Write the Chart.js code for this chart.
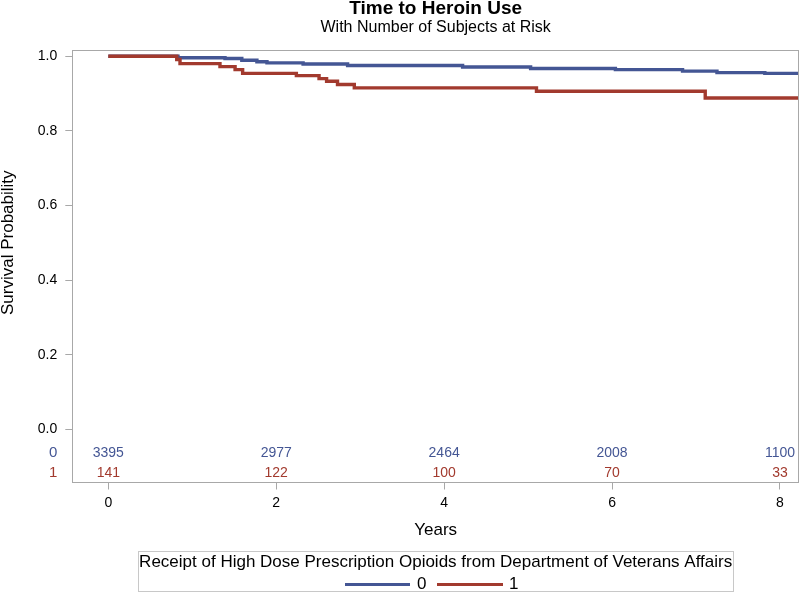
<!DOCTYPE html>
<html>
<head>
<meta charset="utf-8">
<script src="https://cdn.jsdelivr.net/npm/chart.js@4/dist/chart.umd.min.js"></script>
<style>
  html, body { margin: 0; padding: 0; background: #ffffff; }
  #wrap { width: 800px; height: 595px; position: relative; }
</style>
</head>
<body>
<div id="wrap"><canvas id="c" width="800" height="595"></canvas></div>
<script>
// ---- data ----
const groupLabels = ['0', '1'];
const timesGroup0 = [0, 0.83, 1.39, 1.59, 1.77, 1.89, 2.32, 2.85, 4.22, 5.03, 6.04, 6.84, 7.25, 7.82, 8.227];
const survGroup0  = [1.0, 0.996, 0.994, 0.989, 0.985, 0.982, 0.979, 0.975, 0.971, 0.967, 0.964, 0.960, 0.956, 0.954, 0.954];
const timesGroup1 = [0, 0.815, 0.854, 1.33, 1.51, 1.60, 2.24, 2.51, 2.60, 2.73, 2.93, 5.10, 7.11, 8.227];
const survGroup1  = [1.0, 0.991, 0.980, 0.972, 0.964, 0.954, 0.948, 0.940, 0.933, 0.924, 0.915, 0.906, 0.888, 0.888];
const atRiskTimes  = [0, 2, 4, 6, 8];
const atRiskGroup0 = [3395, 2977, 2464, 2008, 1100];
const atRiskGroup1 = [141, 122, 100, 70, 33];
const xTickValues = [0, 2, 4, 6, 8];
const yTickValues = [0.0, 0.2, 0.4, 0.6, 0.8, 1.0];

const titleText = 'Time to Heroin Use';
const subtitleText = 'With Number of Subjects at Risk';
const xTitleText = 'Years';
const yTitleText = 'Survival Probability';
const legendTitle = 'Receipt of High Dose Prescription Opioids from Department of Veterans Affairs';

const BLUE = '#445694';
const RED = '#A23A2E';
const FRAME = '#A8A8A8';
const FONT = '"Liberation Sans", Arial, sans-serif';

function toPoints(xs, ys) { return xs.map((x, i) => ({ x: x, y: ys[i] })); }

const decorPlugin = {
  id: 'decor',
  afterDatasetsDraw(chart) {
    const { ctx, chartArea: a, scales } = chart;
    const xs = scales.x, ys = scales.y;
    ctx.save();
    // frame
    ctx.strokeStyle = FRAME;
    ctx.lineWidth = 1;
    ctx.strokeRect(Math.round(a.left) + 0.5, Math.round(a.top) + 0.5,
                   Math.round(a.right - a.left) - 1, Math.round(a.bottom - a.top));
    // at-risk rows
    const rows = [
      { vals: atRiskGroup0, color: BLUE, yv: -0.0635, lab: groupLabels[0] },
      { vals: atRiskGroup1, color: RED,  yv: -0.117,  lab: groupLabels[1] }
    ];
    ctx.textBaseline = 'middle';
    rows.forEach(r => {
      const py = ys.getPixelForValue(r.yv);
      ctx.fillStyle = r.color;
      ctx.font = '14px ' + FONT;
      ctx.textAlign = 'center';
      r.vals.forEach((v, i) => {
        ctx.fillText(String(v), xs.getPixelForValue(atRiskTimes[i]), py);
      });
      ctx.font = '15px ' + FONT;
      ctx.textAlign = 'right';
      ctx.fillText(r.lab, a.left - 15, py);
    });
    // y axis title, centred on the 0..1 range
    ctx.save();
    ctx.translate(8.5, (ys.getPixelForValue(0) + ys.getPixelForValue(1)) / 2);
    ctx.rotate(-Math.PI / 2);
    ctx.fillStyle = '#000';
    ctx.font = '17px ' + FONT;
    ctx.textAlign = 'center';
    ctx.fillText(yTitleText, 0, 0);
    ctx.restore();
    ctx.restore();
  },
  afterDraw(chart) {
    const { ctx, chartArea: a } = chart;
    const cx = (a.left + a.right) / 2;
    ctx.save();
    ctx.fillStyle = '#000';
    ctx.textAlign = 'center';
    ctx.textBaseline = 'middle';
    ctx.font = 'bold 19px ' + FONT;
    ctx.fillText(titleText, cx, 9);
    ctx.font = '16px ' + FONT;
    ctx.fillText(subtitleText, cx, 28);
    // legend box
    ctx.strokeStyle = '#C8C8C8';
    ctx.lineWidth = 1;
    ctx.strokeRect(138.5, 551.5, 595, 40);
    ctx.fillStyle = '#000';
    ctx.font = '17px ' + FONT;
    ctx.fillText(legendTitle, cx, 562);
    const ds = chart.data.datasets;
    const items = [
      { x0: 345, x1: 410, tx: 417, d: ds[0] },
      { x0: 437, x1: 503, tx: 509, d: ds[1] }
    ];
    items.forEach(it => {
      ctx.strokeStyle = it.d.borderColor;
      ctx.lineWidth = 3;
      ctx.beginPath();
      ctx.moveTo(it.x0, 584.5);
      ctx.lineTo(it.x1, 584.5);
      ctx.stroke();
      ctx.fillStyle = '#000';
      ctx.textAlign = 'left';
      ctx.fillText(it.d.label, it.tx, 584);
    });
    ctx.restore();
  }
};

new Chart(document.getElementById('c'), {
  type: 'line',
  data: {
    datasets: [
      { label: groupLabels[0], data: toPoints(timesGroup0, survGroup0), borderColor: BLUE,
        borderWidth: 3.4, stepped: true, pointRadius: 0, fill: false, order: 2 },
      { label: groupLabels[1], data: toPoints(timesGroup1, survGroup1), borderColor: RED,
        borderWidth: 3.4, stepped: true, pointRadius: 0, fill: false, order: 1 }
    ]
  },
  options: {
    responsive: false,
    animation: false,
    layout: { padding: { top: 50, right: 1, bottom: 50, left: 0 } },
    plugins: { legend: { display: false }, title: { display: false }, tooltip: { enabled: false } },
    scales: {
      x: {
        type: 'linear', min: -0.429, max: 8.227,
        afterBuildTicks: s => { s.ticks = xTickValues.map(v => ({ value: v })); },
        afterFit: s => { s.height = 63.5; },
        ticks: { color: '#000', font: { family: FONT, size: 14 }, padding: 5,
                 callback: v => String(v), maxRotation: 0 },
        grid: { drawOnChartArea: false, drawTicks: true, tickLength: 8, tickColor: FRAME },
        border: { display: false },
        title: { display: true, text: xTitleText, color: '#000',
                 font: { family: FONT, size: 17, lineHeight: 1.2 }, padding: { top: 0, bottom: 4 } }
      },
      y: {
        type: 'linear', min: -0.14, max: 1.0166,
        afterBuildTicks: s => { s.ticks = yTickValues.map(v => ({ value: v })); },
        afterFit: s => { s.width = 72.3; },
        ticks: { color: '#000', font: { family: FONT, size: 14 }, padding: 8,
                 callback: v => Number(v).toFixed(1) },
        grid: { drawOnChartArea: false, drawTicks: true, tickLength: 7, tickColor: FRAME },
        border: { display: false },
        title: { display: false }
      }
    }
  },
  plugins: [decorPlugin]
});
</script>
</body>
</html>
